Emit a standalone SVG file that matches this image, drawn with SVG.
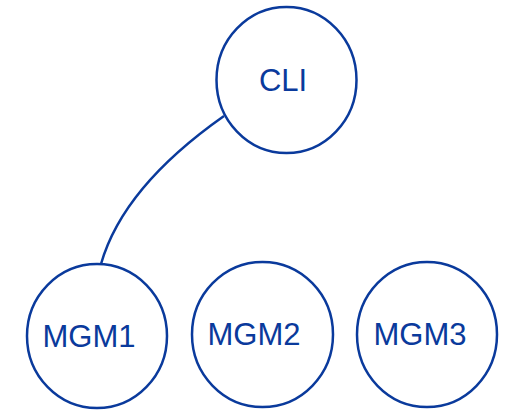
<svg xmlns="http://www.w3.org/2000/svg" width="510" height="411" viewBox="0 0 510 411">
  <style>
    .node { fill: #ffffff; stroke: #0a3a9c; stroke-width: 2.5; }
    .label { font-family: "Liberation Sans", Arial, sans-serif; font-size: 31px; fill: #0a3a9c; text-anchor: middle; }
    .edge { fill: none; stroke: #0a3a9c; stroke-width: 2.5; }
  </style>
  <rect width="510" height="411" fill="#ffffff"/>
  <g id="connectors">
    <path class="edge" d="M224,116 Q123,187 101,264"/>
  </g>
  <g id="cli">
    <ellipse class="node" cx="286.5" cy="80" rx="70" ry="73"/>
    <text class="label" x="283" y="91">CLI</text>
  </g>
  <g id="mgm1">
    <ellipse class="node" cx="97" cy="336" rx="70" ry="72"/>
    <text class="label" x="89" y="347">MGM1</text>
  </g>
  <g id="mgm2">
    <ellipse class="node" cx="262.5" cy="334.5" rx="70.5" ry="72.5"/>
    <text class="label" x="254" y="345">MGM2</text>
  </g>
  <g id="mgm3">
    <ellipse class="node" cx="427" cy="334.5" rx="70" ry="72.5"/>
    <text class="label" x="420" y="345">MGM3</text>
  </g>
</svg>
